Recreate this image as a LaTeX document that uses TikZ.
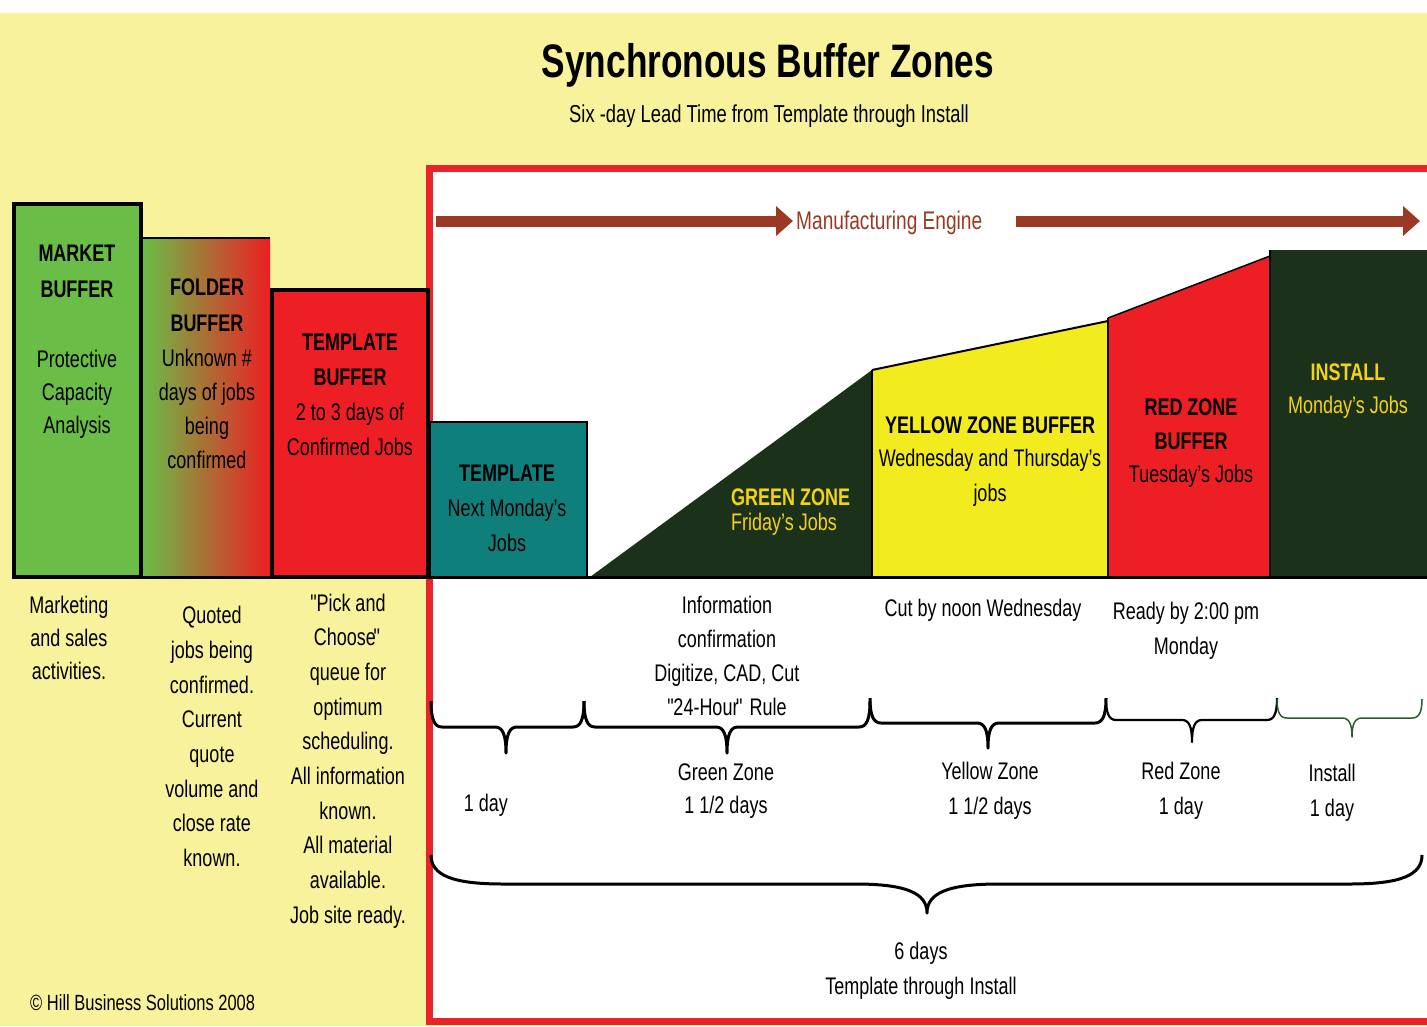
\documentclass[tikz,border=0pt]{standalone}
\usepackage{fontspec}
\setmainfont{Liberation Sans}[FakeStretch=0.75]
\usetikzlibrary{arrows.meta}
\definecolor{bgy}{HTML}{F9F29D}
\definecolor{mgreen}{HTML}{6ABD46}
\definecolor{zred}{HTML}{ED1F24}
\definecolor{frred}{HTML}{E8232A}
\definecolor{tealbox}{HTML}{0F7F7C}
\definecolor{dkgreen}{HTML}{1C311A}
\definecolor{zyel}{HTML}{F2EB1E}
\definecolor{goldtxt}{HTML}{F3D31A}
\definecolor{mbrown}{HTML}{9B3A24}
\definecolor{brgreen}{HTML}{2F5A2F}
\definecolor{midfold}{HTML}{B88A36}
\newcommand\fsz[2]{\fontsize{#1}{#2}\selectfont}
\newcommand\oq{\textquotedbl\kern-2.5pt}
\newcommand\cq{\kern-2.5pt\textquotedbl}
% curly brace: #1 x0, #2 x1, #3 tip x, #4 y0, #5 half height, #6 curl width, #7 style
\newcommand\curly[7]{%
  \draw[#7] (#1,#4) .. controls (#1,{#4+0.7*#5}) and ({#1+0.3*#6},{#4+#5}) .. ({#1+#6},{#4+#5})
    -- ({#3-#6},{#4+#5}) .. controls ({#3-0.3*#6},{#4+#5}) and (#3,{#4+1.3*#5}) .. (#3,{#4+2*#5})
    .. controls (#3,{#4+1.3*#5}) and ({#3+0.3*#6},{#4+#5}) .. ({#3+#6},{#4+#5})
    -- ({#2-#6},{#4+#5}) .. controls ({#2-0.3*#6},{#4+#5}) and (#2,{#4+0.7*#5}) .. (#2,#4);}
\begin{document}
\begin{tikzpicture}[x=1pt,y=-1pt,
  txt/.style={align=center, inner sep=0pt, font=\fsz{24}{35}},
  hd/.style={align=center, inner sep=0pt, font=\fsz{24}{36}\bfseries},
  brline/.style={line width=3pt, line join=round},
  engine/.style={mbrown, line width=11pt, -{Triangle[length=17pt,width=29pt]}}
]
\useasboundingbox (0,0) rectangle (1427,1026);
\clip (0,0) rectangle (1427,1026);
% backgrounds
\fill[white] (0,0) rectangle (1427,1026);
\fill[bgy] (0,13) rectangle (1427,1026);
\fill[white] (429,168) rectangle (1440,1022);
\draw[frred, line width=7pt] (429.5,168.5) -- (1440,168.5) -- (1440,1021.5) -- (429.5,1021.5) -- cycle;

% title
\node[font=\fsz{47}{50}\bfseries] (title) at (768,65) {Synchronous Buffer Zones};
\node[font=\fsz{24.5}{28}] (sub) at (769,116) {Six -day Lead Time from Template through Install};

% left buffers
\draw[line width=4pt, fill=mgreen] (14,204) rectangle (141,577);
\shade[left color=mgreen, middle color=midfold, right color=zred] (143,238) rectangle (270,576);
\draw[line width=2pt] (143,238) -- (270,238);
\draw[line width=4pt, fill=zred] (272,290) rectangle (428,577);
\draw[line width=1.5pt, fill=tealbox] (430,422) rectangle (587,577);

% zones
\fill[dkgreen] (590,577) -- (872,370) -- (872,577) -- cycle;
\fill[zyel] (872,370) -- (1108,321) -- (1108,577) -- (872,577) -- cycle;
\fill[zred] (1108,318) -- (1270,256) -- (1270,577) -- (1108,577) -- cycle;
\fill[dkgreen] (1270,250) rectangle (1430,577);
\draw[line width=2pt] (872,370) -- (1108,321);
\draw[line width=1.5pt] (1108,318) -- (1270,256);
\draw[line width=1.5pt] (872,370) -- (872,577);
\draw[line width=1.5pt] (1108,318) -- (1108,577);
\draw[line width=1.5pt] (1270,250) -- (1270,577);
\draw[line width=3pt] (13,577) -- (1427,577);

% engine arrows
\coordinate (a1s) at (436,221);
\coordinate (a1e) at (793,221);
\coordinate (a2s) at (1016,221);
\coordinate (a2e) at (1420,221);
\draw[engine] (a1s) -- (a1e);
\draw[engine] (a2s) -- (a2e);
\node[font=\fsz{25.5}{30}, text=mbrown, anchor=west, inner sep=0pt] (me) at (796,223) {Manufacturing Engine};

% box texts
\node[hd] (mkh) at (77,271) {MARKET\\BUFFER};
\node[txt, font=\fsz{24}{33}] (mkb) at (77,394) {Protective\\Capacity\\Analysis};
\node[hd] (fdh) at (207,305) {FOLDER\\BUFFER};
\node[txt, font=\fsz{24}{34}] (fdb) at (207,409) {Unknown \#\\days of jobs\\being\\confirmed};
\node[hd, font=\fsz{24}{35}\bfseries] (tbh) at (350,359.5) {TEMPLATE\\BUFFER};
\node[txt] (tbb) at (350,429.5) {2 to 3 days of\\Confirmed Jobs};
\node[hd] (tph) at (507,473) {TEMPLATE};
\node[txt] (tpb) at (507,525.5) {Next Monday's\\Jobs};
\node[hd, text=goldtxt, anchor=west] (gzh) at (731,497) {GREEN ZONE};
\node[txt, text=goldtxt, anchor=west] (gzb) at (731,524) {Friday's Jobs};
\node[hd] (yzh) at (990,425) {YELLOW ZONE BUFFER};
\node[txt] (yzb) at (990,477.5) {Wednesday and Thursday's\\jobs};
\node[hd, font=\fsz{24}{34}\bfseries] (rzh) at (1191,424) {RED ZONE\\BUFFER};
\node[txt] (rzb) at (1191,476) {Tuesday's Jobs};
\node[hd, text=goldtxt] (inh) at (1348,372) {INSTALL};
\node[txt, text=goldtxt] (inb) at (1348,407) {Monday's Jobs};

% lower left texts
\node[txt, font=\fsz{24}{33}] (l1) at (69,637.5) {Marketing\\and sales\\activities.};
\node[txt, font=\fsz{24}{34.7}] (l2) at (212,736.5) {Quoted\\jobs being\\confirmed.\\Current\\quote\\volume and\\close rate\\known.};
\node[txt, font=\fsz{24}{34.7}] (l3) at (348,761) {\oq Pick and\\Choose\cq\\queue for\\optimum\\scheduling.\\All information\\known.\\All material\\available.\\Job site ready.};
\node[txt, font=\fsz{22}{26}, anchor=west] (copy) at (30,1003) {© Hill Business Solutions 2008};

% lower right texts
\node[txt, font=\fsz{24}{34}] (r1) at (727,656) {Information\\confirmation\\Digitize, CAD, Cut\\\oq 24-Hour\cq{} Rule};
\node[txt] (r2) at (983,610) {Cut by noon Wednesday};
\node[txt] (r3) at (1186,630.5) {Ready by 2:00 pm\\Monday};

% braces
\curly{431}{584}{506}{701}{26}{11}{brline}
\curly{584}{870}{727}{701}{26}{11}{brline}
\curly{870}{1106}{988}{698}{25}{11}{brline}
\curly{1106}{1277}{1192}{698}{22}{10}{brline, line width=2.2pt}
\curly{1277}{1422}{1352}{699}{19}{10}{brline, line width=1.5pt, brgreen}
\curly{431}{1422}{927}{855}{29}{72}{brline}

\node[txt] (d1) at (486,805) {1 day};
\node[txt, font=\fsz{24}{33}] (d2) at (726,791.5) {Green Zone\\1 1/2 days};
\node[txt, font=\fsz{24}{35}] (d3) at (990,790.5) {Yellow Zone\\1 1/2 days};
\node[txt, font=\fsz{24}{35}] (d4) at (1181,790.5) {Red Zone\\1 day};
\node[txt, font=\fsz{24}{35}] (d5) at (1332,792.5) {Install\\1 day};
\node[txt, font=\fsz{24}{35}] (d6) at (921,970.5) {6 days\\Template through Install};
\end{tikzpicture}
\end{document}
